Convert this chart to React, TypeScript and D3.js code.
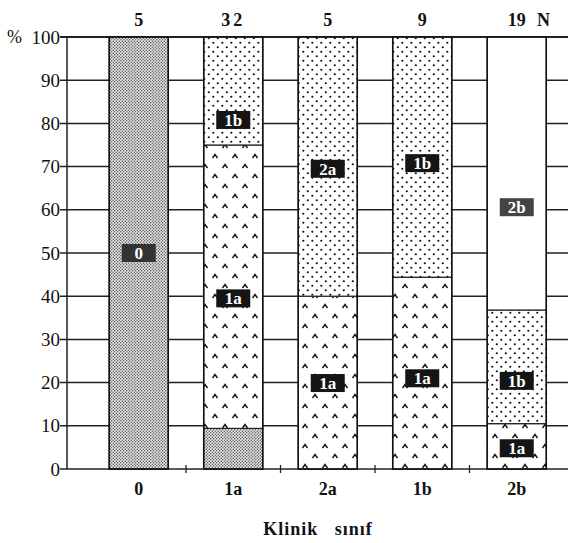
import React, { useEffect, useRef } from "react";
import * as d3 from "d3";

// clinical classes on x axis, with N above each bar
const categories = ["0", "1a", "2a", "1b", "2b"];
const nValues = [5, 32, 5, 9, 19];

// percentage of each sub-class inside every bar (stack order bottom -> top)
const groupKeys = ["0", "1a", "1b", "2a", "2b"];
const pct0 = [100, 9.4, 0, 0, 0];
const pct1a = [0, 65.6, 40, 44.4, 10.5];
const pct1b = [0, 25, 0, 55.6, 26.3];
const pct2a = [0, 0, 60, 0, 0];
const pct2b = [0, 0, 0, 0, 63.2];

// label boxes inside bars
const labelCats = ["0", "1a", "1a", "2a", "2a", "1b", "1b", "2b", "2b", "2b"];
const labelTexts = ["0", "1a", "1b", "2a", "1a", "1b", "1a", "2b", "1b", "1a"];
const labelVals = [50, 39.5, 80.8, 69.5, 19.9, 70.8, 21, 60.6, 20.4, 4.8];

const yTicks = [0, 10, 20, 30, 40, 50, 60, 70, 80, 90, 100];

const W = 568;
const H = 543;
const SERIF = "Liberation Serif, DejaVu Serif, serif";

const App = () => {
  const svgRef = useRef(null);

  useEffect(() => {
    const svg = d3.select(svgRef.current);
    svg.selectAll("*").remove();

    const left = 67;
    const right = 575;
    const y = d3.scaleLinear().domain([0, 100]).range([469, 37]);
    const x = d3
      .scaleBand()
      .domain(categories)
      .range([91.5, 564])
      .paddingInner(0.375)
      .paddingOuter(0.1875);

    const table = categories.map((c, i) => ({
      cat: c,
      "0": pct0[i],
      "1a": pct1a[i],
      "1b": pct1b[i],
      "2a": pct2a[i],
      "2b": pct2b[i],
    }));
    const series = d3.stack().keys(groupKeys)(table);

    // patterns
    const defs = svg.append("defs");
    const p0 = defs
      .append("pattern")
      .attr("id", "pat-0")
      .attr("patternUnits", "userSpaceOnUse")
      .attr("width", 3)
      .attr("height", 3);
    p0.append("rect").attr("width", 3).attr("height", 3).attr("fill", "#e8e8e8");
    p0.append("circle").attr("cx", 0.75).attr("cy", 0.75).attr("r", 0.7).attr("fill", "#444");
    p0.append("circle").attr("cx", 2.25).attr("cy", 2.25).attr("r", 0.7).attr("fill", "#444");

    const caret = defs
      .append("pattern")
      .attr("id", "pat-1a")
      .attr("patternUnits", "userSpaceOnUse")
      .attr("width", 20)
      .attr("height", 20);
    caret.append("rect").attr("width", 20).attr("height", 20).attr("fill", "#fff");
    [
      [5, 6],
      [15, 16],
    ].forEach(([cx, cy]) => {
      caret
        .append("path")
        .attr("d", `M${cx - 2.5},${cy + 2} L${cx},${cy - 1.5} L${cx + 2.5},${cy + 2}`)
        .attr("fill", "none")
        .attr("stroke", "#111")
        .attr("stroke-width", 1.4);
    });

    const dots = (id, size, r) => {
      const p = defs
        .append("pattern")
        .attr("id", id)
        .attr("patternUnits", "userSpaceOnUse")
        .attr("width", size)
        .attr("height", size);
      p.append("rect").attr("width", size).attr("height", size).attr("fill", "#fff");
      p.append("circle").attr("cx", size * 0.2).attr("cy", size * 0.25).attr("r", r).attr("fill", "#111");
      p.append("circle").attr("cx", size * 0.7).attr("cy", size * 0.75).attr("r", r).attr("fill", "#111");
    };
    dots("pat-1b", 9, 1.1);
    dots("pat-2a", 9, 1.1);

    const fillFor = (k) => (k === "2b" ? "#fff" : `url(#pat-${k})`);

    // grid lines
    svg
      .append("g")
      .selectAll("line")
      .data(yTicks)
      .join("line")
      .attr("x1", left - 7)
      .attr("x2", right)
      .attr("y1", (d) => y(d))
      .attr("y2", (d) => y(d))
      .attr("stroke", "#222")
      .attr("stroke-width", (d) => (d === 100 ? 2 : 1.5));

    // left axis line
    svg
      .append("line")
      .attr("x1", left)
      .attr("x2", left)
      .attr("y1", y(100))
      .attr("y2", y(0))
      .attr("stroke", "#222")
      .attr("stroke-width", 1.5);

    // x ticks between bars
    const mids = categories.slice(1).map((c) => x(c) - (x.step() - x.bandwidth()) / 2);
    svg
      .append("g")
      .selectAll("line")
      .data(mids)
      .join("line")
      .attr("x1", (d) => d)
      .attr("x2", (d) => d)
      .attr("y1", y(0) - 4)
      .attr("y2", y(0) + 4)
      .attr("stroke", "#222")
      .attr("stroke-width", 1.3);

    // stacked bars
    svg
      .append("g")
      .selectAll("g")
      .data(series)
      .join("g")
      .attr("fill", (s) => fillFor(s.key))
      .selectAll("rect")
      .data((s) => s.filter((d) => d[1] - d[0] > 0))
      .join("rect")
      .attr("x", (d) => x(d.data.cat))
      .attr("width", x.bandwidth())
      .attr("y", (d) => y(d[1]))
      .attr("height", (d) => y(d[0]) - y(d[1]))
      .attr("stroke", "#222")
      .attr("stroke-width", 1.2);

    // bar outlines
    svg
      .append("g")
      .selectAll("rect")
      .data(categories)
      .join("rect")
      .attr("x", (d) => x(d))
      .attr("width", x.bandwidth())
      .attr("y", y(100))
      .attr("height", y(0) - y(100))
      .attr("fill", "none")
      .attr("stroke", "#111")
      .attr("stroke-width", 1.5);

    // label boxes
    const lg = svg
      .append("g")
      .selectAll("g")
      .data(labelTexts.map((t, i) => ({ t, cat: labelCats[i], v: labelVals[i] })))
      .join("g")
      .attr("transform", (d) => `translate(${x(d.cat) + x.bandwidth() / 2},${y(d.v)})`);
    lg.append("rect")
      .attr("x", -17)
      .attr("y", -9)
      .attr("width", 34)
      .attr("height", 18)
      .attr("fill", (d) => (d.t === "2b" ? "#444" : d.t === "0" ? "#333" : "#151515"));
    lg.append("text")
      .attr("text-anchor", "middle")
      .attr("dy", "0.35em")
      .attr("fill", "#fff")
      .style("font-weight", "bold")
      .style("font-size", "17px")
      .text((d) => d.t);

    // y tick labels
    svg
      .append("g")
      .selectAll("text")
      .data(yTicks)
      .join("text")
      .attr("x", 60)
      .attr("y", (d) => y(d))
      .attr("dy", "0.35em")
      .attr("text-anchor", "end")
      .style("font-size", "19px")
      .attr("fill", "#111")
      .text((d) => d);
    svg
      .append("text")
      .attr("x", 7)
      .attr("y", y(100))
      .attr("dy", "0.35em")
      .style("font-size", "18px")
      .attr("fill", "#111")
      .text("%");

    // N labels on top
    svg
      .append("g")
      .selectAll("text")
      .data(categories)
      .join("text")
      .attr("x", (d) => x(d) + x.bandwidth() / 2)
      .attr("y", 20)
      .attr("dy", "0.35em")
      .attr("text-anchor", "middle")
      .style("font-weight", "bold")
      .style("font-size", "18px")
      .attr("letter-spacing", (d, i) => (nValues[i] === 32 ? 3 : 0))
      .attr("fill", "#111")
      .text((d, i) => nValues[i]);
    svg
      .append("text")
      .attr("x", 537)
      .attr("y", 20)
      .attr("dy", "0.35em")
      .style("font-weight", "bold")
      .style("font-size", "18px")
      .attr("fill", "#111")
      .text("N");

    // x category labels
    svg
      .append("g")
      .selectAll("text")
      .data(categories)
      .join("text")
      .attr("x", (d) => x(d) + x.bandwidth() / 2)
      .attr("y", 489)
      .attr("dy", "0.35em")
      .attr("text-anchor", "middle")
      .style("font-weight", "bold")
      .style("font-size", "18px")
      .attr("fill", "#111")
      .text((d) => d);

    svg
      .append("text")
      .attr("x", 318)
      .attr("y", 529)
      .attr("dy", "0.35em")
      .attr("text-anchor", "middle")
      .style("font-weight", "bold")
      .style("font-size", "18px")
      .attr("letter-spacing", 1)
      .style("white-space", "pre")
      .attr("fill", "#111")
      .text("Klinik   sınıf");
  }, []);

  return (
    <svg
      ref={svgRef}
      width={W}
      height={H}
      style={{ position: "absolute", left: 0, top: 0, background: "#fff", fontFamily: SERIF }}
    ></svg>
  );
};

export default App;
